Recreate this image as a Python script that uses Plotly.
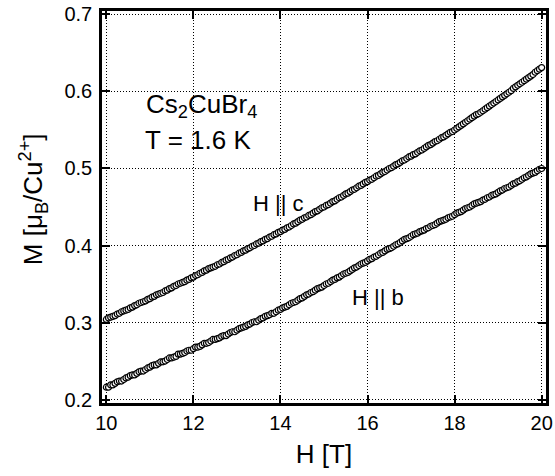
import plotly.graph_objects as go

field = [round(10 + 0.05 * i, 2) for i in range(201)]

m_c = [
    0.304, 0.306, 0.307, 0.308, 0.309, 0.311, 0.312, 0.314, 0.315, 0.316, 0.317, 0.319, 0.320, 0.322, 0.323, 0.325, 0.326, 0.327, 0.328, 0.330,
    0.331, 0.333, 0.334, 0.336, 0.337, 0.338, 0.339, 0.341, 0.342, 0.344, 0.345, 0.347, 0.348, 0.350, 0.351, 0.352, 0.353, 0.355, 0.356, 0.358,
    0.359, 0.361, 0.362, 0.364, 0.365, 0.367, 0.368, 0.370, 0.371, 0.372, 0.373, 0.375, 0.376, 0.378, 0.379, 0.381, 0.382, 0.384, 0.385, 0.387,
    0.388, 0.390, 0.391, 0.393, 0.394, 0.396, 0.397, 0.399, 0.400, 0.402, 0.403, 0.405, 0.406, 0.408, 0.409, 0.411, 0.412, 0.414, 0.415, 0.417,
    0.418, 0.420, 0.421, 0.423, 0.424, 0.426, 0.428, 0.429, 0.431, 0.433, 0.434, 0.436, 0.437, 0.439, 0.440, 0.442, 0.444, 0.445, 0.447, 0.449,
    0.450, 0.452, 0.453, 0.455, 0.457, 0.458, 0.460, 0.462, 0.463, 0.465, 0.467, 0.468, 0.470, 0.472, 0.473, 0.475, 0.477, 0.478, 0.480, 0.482,
    0.483, 0.485, 0.486, 0.488, 0.490, 0.491, 0.493, 0.495, 0.496, 0.498, 0.500, 0.501, 0.503, 0.505, 0.506, 0.508, 0.510, 0.511, 0.513, 0.515,
    0.516, 0.518, 0.519, 0.521, 0.523, 0.524, 0.526, 0.528, 0.530, 0.531, 0.533, 0.535, 0.536, 0.538, 0.540, 0.541, 0.543, 0.545, 0.547, 0.548,
    0.550, 0.552, 0.554, 0.556, 0.558, 0.560, 0.562, 0.564, 0.566, 0.568, 0.570, 0.571, 0.573, 0.575, 0.577, 0.579, 0.581, 0.583, 0.585, 0.587,
    0.589, 0.591, 0.593, 0.595, 0.597, 0.599, 0.601, 0.604, 0.606, 0.608, 0.610, 0.612, 0.614, 0.616, 0.618, 0.620, 0.622, 0.625, 0.627, 0.629,
    0.631,
]

m_b = [
    0.216, 0.216, 0.219, 0.219, 0.221, 0.223, 0.224, 0.224, 0.226, 0.228, 0.229, 0.231, 0.232, 0.232, 0.234, 0.236, 0.237, 0.237, 0.239, 0.241,
    0.242, 0.244, 0.245, 0.245, 0.247, 0.249, 0.249, 0.250, 0.252, 0.254, 0.254, 0.255, 0.256, 0.259, 0.259, 0.260, 0.261, 0.263, 0.264, 0.264,
    0.266, 0.268, 0.268, 0.269, 0.271, 0.273, 0.273, 0.274, 0.276, 0.278, 0.278, 0.279, 0.280, 0.282, 0.283, 0.283, 0.285, 0.287, 0.288, 0.288,
    0.290, 0.292, 0.293, 0.294, 0.295, 0.297, 0.298, 0.300, 0.301, 0.301, 0.303, 0.305, 0.306, 0.308, 0.309, 0.310, 0.312, 0.312, 0.314, 0.316,
    0.317, 0.319, 0.320, 0.321, 0.323, 0.325, 0.326, 0.327, 0.329, 0.331, 0.332, 0.334, 0.336, 0.337, 0.339, 0.340, 0.342, 0.344, 0.345, 0.346,
    0.348, 0.350, 0.351, 0.353, 0.355, 0.356, 0.358, 0.359, 0.361, 0.363, 0.364, 0.365, 0.367, 0.369, 0.371, 0.372, 0.374, 0.376, 0.377, 0.378,
    0.380, 0.382, 0.383, 0.385, 0.386, 0.388, 0.390, 0.391, 0.393, 0.395, 0.396, 0.397, 0.399, 0.401, 0.402, 0.404, 0.406, 0.408, 0.409, 0.410,
    0.412, 0.414, 0.415, 0.416, 0.418, 0.419, 0.420, 0.422, 0.423, 0.425, 0.426, 0.427, 0.429, 0.431, 0.432, 0.433, 0.434, 0.436, 0.437, 0.438,
    0.440, 0.442, 0.443, 0.444, 0.446, 0.448, 0.449, 0.450, 0.452, 0.454, 0.455, 0.456, 0.457, 0.459, 0.460, 0.462, 0.463, 0.465, 0.466, 0.467,
    0.469, 0.471, 0.472, 0.474, 0.475, 0.476, 0.478, 0.480, 0.481, 0.483, 0.484, 0.486, 0.488, 0.489, 0.491, 0.493, 0.494, 0.495, 0.497, 0.499,
    0.500,
]

x_ticks = [10, 12, 14, 16, 18, 20]
y_ticks = [0.2, 0.3, 0.4, 0.5, 0.6, 0.7]

FONT = "Liberation Sans, Arial, Helvetica, sans-serif"

fig = go.Figure()
for ys in (m_c, m_b):
    fig.add_trace(go.Scatter(
        x=field, y=ys, mode="markers",
        marker=dict(symbol="circle", size=6, color="white",
                    line=dict(color="black", width=1.2)),
        showlegend=False, hoverinfo="skip",
    ))

axis_common = dict(
    showline=True, linecolor="black", linewidth=2.5, mirror="ticks",
    ticks="inside", ticklen=8, tickwidth=2, tickcolor="black",
    showgrid=True, gridcolor="black", gridwidth=1, griddash="1px,2px",
    zeroline=False, automargin=False,
    tickfont=dict(family=FONT, size=20, color="black"),
)

fig.update_xaxes(
    range=[9.9, 20.1], tickvals=x_ticks, ticktext=[str(v) for v in x_ticks],
    title=dict(text="H [T]", font=dict(family=FONT, size=26, color="black"), standoff=13),
    **axis_common,
)
fig.update_yaxes(
    range=[0.1955, 0.7045], tickvals=y_ticks, ticktext=[f"{v:.1f}" for v in y_ticks],
    ticklabelstandoff=3,
    **axis_common,
)

# y-axis title as a rotated annotation for finer placement
fig.add_annotation(x=-0.155, y=0.5, xref="paper", yref="paper",
                   text="M [μ<sub>B</sub>/Cu<sup>2+</sup>]", showarrow=False,
                   textangle=-90, xanchor="center", yanchor="middle", yshift=8,
                   font=dict(family=FONT, size=26, color="black"))

ann_font = dict(family=FONT, size=26, color="black")
fig.add_annotation(x=10.86, y=0.5818, xref="x", yref="y",
                   text="Cs<sub>2</sub>CuBr<sub>4</sub>", showarrow=False,
                   xanchor="left", yanchor="middle", font=ann_font)
fig.add_annotation(x=10.84, y=0.537, xref="x", yref="y",
                   text="T = 1.6 K", showarrow=False,
                   xanchor="left", yanchor="middle", font=ann_font)
fig.add_annotation(x=13.95, y=0.4545, xref="x", yref="y",
                   text="H || c", showarrow=False,
                   xanchor="center", yanchor="middle",
                   font=dict(family=FONT, size=22, color="black"))
fig.add_annotation(x=16.24, y=0.3331, xref="x", yref="y",
                   text="H || b", showarrow=False,
                   xanchor="center", yanchor="middle",
                   font=dict(family=FONT, size=22, color="black"))

fig.update_layout(
    width=555, height=476,
    margin=dict(l=102, r=9, t=11, b=73),
    paper_bgcolor="white", plot_bgcolor="white",
)

fig.write_html("out.html", config={"displayModeBar": False},
               post_script="document.body.style.margin='0';")
